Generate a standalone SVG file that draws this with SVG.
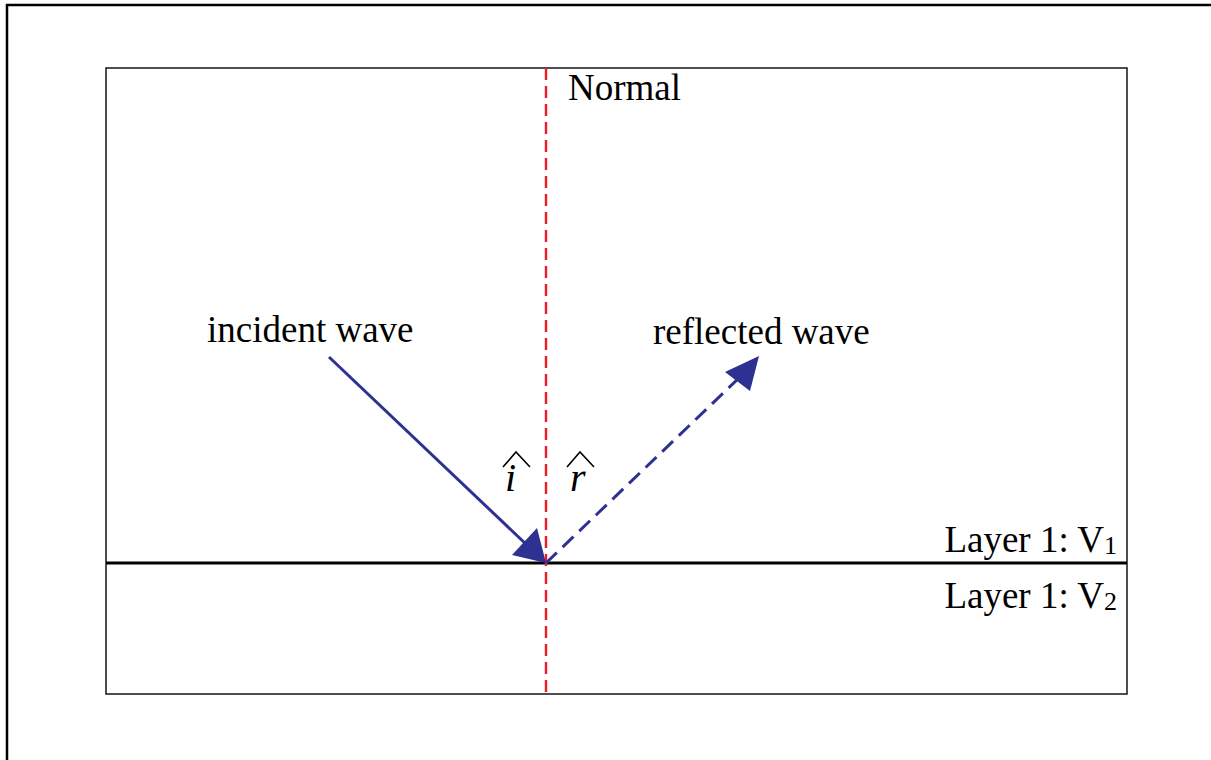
<svg xmlns="http://www.w3.org/2000/svg" width="1211" height="760" viewBox="0 0 1211 760">
<style>
text{font-family:"Liberation Serif","Times New Roman",serif;font-size:37px;fill:#000}
.it{font-style:italic;font-size:40px}
.sub{font-size:26px}
.ray{stroke:#2e3192;stroke-width:3;fill:none}
.head{fill:#2e3192}
</style>
<rect width="1211" height="760" fill="#fff"/>
<g id="frame">
<rect x="7" y="5" width="1230" height="790" fill="none" stroke="#000" stroke-width="2.5"/>
</g>
<g id="box">
<rect x="106" y="68" width="1021" height="626" fill="none" stroke="#222" stroke-width="1.6"/>
</g>
<g id="interface">
<line x1="106" y1="563" x2="1127" y2="563" stroke="#000" stroke-width="3"/>
</g>
<g id="connectors">
<line id="normal-line" x1="546" y1="68" x2="546" y2="694" stroke="#ed1c24" stroke-width="2.4" stroke-dasharray="12,6"/>
<line id="incident" class="ray" x1="329" y1="357" x2="528" y2="546"/>
<polygon class="head" points="546,563 512,555 537,528"/>
<line id="reflected" class="ray" x1="546" y1="563" x2="740" y2="377" stroke-dasharray="15,8"/>
<polygon class="head" points="759,356 725,372 750,391"/>
</g>
<g id="normal-label"><text x="568" y="100">Normal</text></g>
<g id="incident-label"><text x="207" y="342">incident wave</text></g>
<g id="reflected-label"><text x="653" y="344">reflected wave</text></g>
<g id="angle-i">
<text class="it" x="505" y="491">i</text>
<polyline points="503,467 516,452 530,467" fill="none" stroke="#000" stroke-width="1.6"/>
</g>
<g id="angle-r">
<text class="it" x="570" y="491">r</text>
<polyline points="567,467 580,452 594,467" fill="none" stroke="#000" stroke-width="1.6"/>
</g>
<g id="layer1"><text x="1117" y="552" text-anchor="end">Layer 1: V<tspan class="sub" dy="2">1</tspan></text></g>
<g id="layer2"><text x="1117" y="608" text-anchor="end">Layer 1: V<tspan class="sub" dy="2">2</tspan></text></g>
</svg>
